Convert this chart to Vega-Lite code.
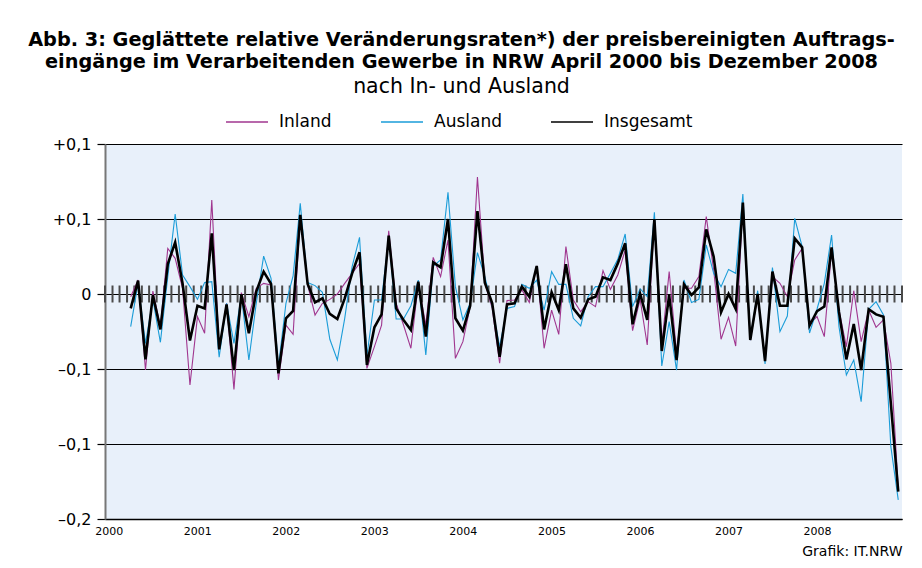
{
"$schema": "https://vega.github.io/schema/vega-lite/v6.json",
"width": 797, "height": 375,
"autosize": {"type": "none"},
"padding": {"left": 105, "top": 144, "right": 20, "bottom": 49},
"background": "white",
"config": {"view": {"fill": "#e8f0fa", "stroke": null}, "font": "DejaVu Sans"},
"title": {"text": ["Abb. 3: Geglättete relative Veränderungsraten*) der preisbereinigten Auftrags-", "eingänge im Verarbeitenden Gewerbe in NRW April 2000 bis Dezember 2008"], "subtitle": "nach In- und Ausland", "anchor": "middle", "frame": "group", "dx": -42, "fontSize": 19.3, "fontWeight": "bold", "lineHeight": 22, "subtitleFontSize": 20.5, "subtitleFontWeight": "normal", "subtitlePadding": 4, "offset": 3, "color": "black", "subtitleColor": "black", "font": "DejaVu Sans", "subtitleFont": "DejaVu Sans"},
"datasets": {
"months": [{"month":"2000-01"},{"month":"2000-02"},{"month":"2000-03"},{"month":"2000-04"},{"month":"2000-05"},{"month":"2000-06"},{"month":"2000-07"},{"month":"2000-08"},{"month":"2000-09"},{"month":"2000-10"},{"month":"2000-11"},{"month":"2000-12"},
{"month":"2001-01"},{"month":"2001-02"},{"month":"2001-03"},{"month":"2001-04"},{"month":"2001-05"},{"month":"2001-06"},{"month":"2001-07"},{"month":"2001-08"},{"month":"2001-09"},{"month":"2001-10"},{"month":"2001-11"},{"month":"2001-12"},
{"month":"2002-01"},{"month":"2002-02"},{"month":"2002-03"},{"month":"2002-04"},{"month":"2002-05"},{"month":"2002-06"},{"month":"2002-07"},{"month":"2002-08"},{"month":"2002-09"},{"month":"2002-10"},{"month":"2002-11"},{"month":"2002-12"},
{"month":"2003-01"},{"month":"2003-02"},{"month":"2003-03"},{"month":"2003-04"},{"month":"2003-05"},{"month":"2003-06"},{"month":"2003-07"},{"month":"2003-08"},{"month":"2003-09"},{"month":"2003-10"},{"month":"2003-11"},{"month":"2003-12"},
{"month":"2004-01"},{"month":"2004-02"},{"month":"2004-03"},{"month":"2004-04"},{"month":"2004-05"},{"month":"2004-06"},{"month":"2004-07"},{"month":"2004-08"},{"month":"2004-09"},{"month":"2004-10"},{"month":"2004-11"},{"month":"2004-12"},
{"month":"2005-01"},{"month":"2005-02"},{"month":"2005-03"},{"month":"2005-04"},{"month":"2005-05"},{"month":"2005-06"},{"month":"2005-07"},{"month":"2005-08"},{"month":"2005-09"},{"month":"2005-10"},{"month":"2005-11"},{"month":"2005-12"},
{"month":"2006-01"},{"month":"2006-02"},{"month":"2006-03"},{"month":"2006-04"},{"month":"2006-05"},{"month":"2006-06"},{"month":"2006-07"},{"month":"2006-08"},{"month":"2006-09"},{"month":"2006-10"},{"month":"2006-11"},{"month":"2006-12"},
{"month":"2007-01"},{"month":"2007-02"},{"month":"2007-03"},{"month":"2007-04"},{"month":"2007-05"},{"month":"2007-06"},{"month":"2007-07"},{"month":"2007-08"},{"month":"2007-09"},{"month":"2007-10"},{"month":"2007-11"},{"month":"2007-12"},
{"month":"2008-01"},{"month":"2008-02"},{"month":"2008-03"},{"month":"2008-04"},{"month":"2008-05"},{"month":"2008-06"},{"month":"2008-07"},{"month":"2008-08"},{"month":"2008-09"},{"month":"2008-10"},{"month":"2008-11"},{"month":"2008-12"},
{"month":"2009-01"}],
"series": [
{"month":"2000-04","series":"Insgesamt","value":-0.0096},{"month":"2000-05","series":"Insgesamt","value":0.0089},{"month":"2000-06","series":"Insgesamt","value":-0.0436},{"month":"2000-07","series":"Insgesamt","value":-0.0007},{"month":"2000-08","series":"Insgesamt","value":-0.0236},{"month":"2000-09","series":"Insgesamt","value":0.02},{"month":"2000-10","series":"Insgesamt","value":0.0344},{"month":"2000-11","series":"Insgesamt","value":0.007},{"month":"2000-12","series":"Insgesamt","value":-0.031},
{"month":"2001-01","series":"Insgesamt","value":-0.0078},{"month":"2001-02","series":"Insgesamt","value":-0.0096},{"month":"2001-03","series":"Insgesamt","value":0.0404},{"month":"2001-04","series":"Insgesamt","value":-0.0369},{"month":"2001-05","series":"Insgesamt","value":-0.0069},{"month":"2001-06","series":"Insgesamt","value":-0.0507},{"month":"2001-07","series":"Insgesamt","value":-0.0002},{"month":"2001-08","series":"Insgesamt","value":-0.0262},{"month":"2001-09","series":"Insgesamt","value":0.0016},{"month":"2001-10","series":"Insgesamt","value":0.0149},{"month":"2001-11","series":"Insgesamt","value":0.0067},{"month":"2001-12","series":"Insgesamt","value":-0.0529},
{"month":"2002-01","series":"Insgesamt","value":-0.0162},{"month":"2002-02","series":"Insgesamt","value":-0.0113},{"month":"2002-03","series":"Insgesamt","value":0.0527},{"month":"2002-04","series":"Insgesamt","value":0.0067},{"month":"2002-05","series":"Insgesamt","value":-0.0056},{"month":"2002-06","series":"Insgesamt","value":-0.0029},{"month":"2002-07","series":"Insgesamt","value":-0.0133},{"month":"2002-08","series":"Insgesamt","value":-0.0167},{"month":"2002-09","series":"Insgesamt","value":-0.0029},{"month":"2002-10","series":"Insgesamt","value":0.0138},{"month":"2002-11","series":"Insgesamt","value":0.0278},{"month":"2002-12","series":"Insgesamt","value":-0.0473},
{"month":"2003-01","series":"Insgesamt","value":-0.0222},{"month":"2003-02","series":"Insgesamt","value":-0.0136},{"month":"2003-03","series":"Insgesamt","value":0.0389},{"month":"2003-04","series":"Insgesamt","value":-0.0096},{"month":"2003-05","series":"Insgesamt","value":-0.0173},{"month":"2003-06","series":"Insgesamt","value":-0.024},{"month":"2003-07","series":"Insgesamt","value":0.0082},{"month":"2003-08","series":"Insgesamt","value":-0.0284},{"month":"2003-09","series":"Insgesamt","value":0.0211},{"month":"2003-10","series":"Insgesamt","value":0.0178},{"month":"2003-11","series":"Insgesamt","value":0.05},{"month":"2003-12","series":"Insgesamt","value":-0.0162},
{"month":"2004-01","series":"Insgesamt","value":-0.0244},{"month":"2004-02","series":"Insgesamt","value":-0.0078},{"month":"2004-03","series":"Insgesamt","value":0.0553},{"month":"2004-04","series":"Insgesamt","value":0.0076},{"month":"2004-05","series":"Insgesamt","value":-0.0062},{"month":"2004-06","series":"Insgesamt","value":-0.0418},{"month":"2004-07","series":"Insgesamt","value":-0.0069},{"month":"2004-08","series":"Insgesamt","value":-0.0062},{"month":"2004-09","series":"Insgesamt","value":0.0049},{"month":"2004-10","series":"Insgesamt","value":-0.0018},{"month":"2004-11","series":"Insgesamt","value":0.0187},{"month":"2004-12","series":"Insgesamt","value":-0.0236},
{"month":"2005-01","series":"Insgesamt","value":0.0011},{"month":"2005-02","series":"Insgesamt","value":-0.0107},{"month":"2005-03","series":"Insgesamt","value":0.0198},{"month":"2005-04","series":"Insgesamt","value":-0.0096},{"month":"2005-05","series":"Insgesamt","value":-0.0158},{"month":"2005-06","series":"Insgesamt","value":-0.0036},{"month":"2005-07","series":"Insgesamt","value":-0.0018},{"month":"2005-08","series":"Insgesamt","value":0.0111},{"month":"2005-09","series":"Insgesamt","value":0.0093},{"month":"2005-10","series":"Insgesamt","value":0.0204},{"month":"2005-11","series":"Insgesamt","value":0.0338},{"month":"2005-12","series":"Insgesamt","value":-0.0202},
{"month":"2006-01","series":"Insgesamt","value":0.0002},{"month":"2006-02","series":"Insgesamt","value":-0.0173},{"month":"2006-03","series":"Insgesamt","value":0.05},{"month":"2006-04","series":"Insgesamt","value":-0.038},{"month":"2006-05","series":"Insgesamt","value":-0.0007},{"month":"2006-06","series":"Insgesamt","value":-0.044},{"month":"2006-07","series":"Insgesamt","value":0.0064},{"month":"2006-08","series":"Insgesamt","value":-0.0007},{"month":"2006-09","series":"Insgesamt","value":0.0044},{"month":"2006-10","series":"Insgesamt","value":0.0431},{"month":"2006-11","series":"Insgesamt","value":0.0249},{"month":"2006-12","series":"Insgesamt","value":-0.0122},
{"month":"2007-01","series":"Insgesamt","value":0},{"month":"2007-02","series":"Insgesamt","value":-0.01},{"month":"2007-03","series":"Insgesamt","value":0.0609},{"month":"2007-04","series":"Insgesamt","value":-0.0307},{"month":"2007-05","series":"Insgesamt","value":0},{"month":"2007-06","series":"Insgesamt","value":-0.0447},{"month":"2007-07","series":"Insgesamt","value":0.0149},{"month":"2007-08","series":"Insgesamt","value":-0.0078},{"month":"2007-09","series":"Insgesamt","value":-0.0078},{"month":"2007-10","series":"Insgesamt","value":0.0371},{"month":"2007-11","series":"Insgesamt","value":0.0311},{"month":"2007-12","series":"Insgesamt","value":-0.021},
{"month":"2008-01","series":"Insgesamt","value":-0.0115},{"month":"2008-02","series":"Insgesamt","value":-0.0084},{"month":"2008-03","series":"Insgesamt","value":0.0311},{"month":"2008-04","series":"Insgesamt","value":-0.012},{"month":"2008-05","series":"Insgesamt","value":-0.0436},{"month":"2008-06","series":"Insgesamt","value":-0.02},{"month":"2008-07","series":"Insgesamt","value":-0.0507},{"month":"2008-08","series":"Insgesamt","value":-0.0102},{"month":"2008-09","series":"Insgesamt","value":-0.0136},{"month":"2008-10","series":"Insgesamt","value":-0.0151},{"month":"2008-11","series":"Insgesamt","value":-0.073},{"month":"2008-12","series":"Insgesamt","value":-0.1318},
{"month":"2000-04","series":"Inland","value":-0.0018},{"month":"2000-05","series":"Inland","value":0.0093},{"month":"2000-06","series":"Inland","value":-0.0507},{"month":"2000-07","series":"Inland","value":0.002},{"month":"2000-08","series":"Inland","value":-0.0218},{"month":"2000-09","series":"Inland","value":0.0304},{"month":"2000-10","series":"Inland","value":0.0238},{"month":"2000-11","series":"Inland","value":0.0038},{"month":"2000-12","series":"Inland","value":-0.0607},
{"month":"2001-01","series":"Inland","value":-0.0151},{"month":"2001-02","series":"Inland","value":-0.0262},{"month":"2001-03","series":"Inland","value":0.0627},{"month":"2001-04","series":"Inland","value":-0.0369},{"month":"2001-05","series":"Inland","value":-0.0062},{"month":"2001-06","series":"Inland","value":-0.0636},{"month":"2001-07","series":"Inland","value":0.0009},{"month":"2001-08","series":"Inland","value":-0.0151},{"month":"2001-09","series":"Inland","value":0.0038},{"month":"2001-10","series":"Inland","value":0.0071},{"month":"2001-11","series":"Inland","value":0.006},{"month":"2001-12","series":"Inland","value":-0.0573},
{"month":"2002-01","series":"Inland","value":-0.0207},{"month":"2002-02","series":"Inland","value":-0.0269},{"month":"2002-03","series":"Inland","value":0.0516},{"month":"2002-04","series":"Inland","value":0.006},{"month":"2002-05","series":"Inland","value":-0.014},{"month":"2002-06","series":"Inland","value":-0.0062},{"month":"2002-07","series":"Inland","value":-0.0036},{"month":"2002-08","series":"Inland","value":0},{"month":"2002-09","series":"Inland","value":0.0071},{"month":"2002-10","series":"Inland","value":0.0138},{"month":"2002-11","series":"Inland","value":0.0204},{"month":"2002-12","series":"Inland","value":-0.0496},
{"month":"2003-01","series":"Inland","value":-0.0351},{"month":"2003-02","series":"Inland","value":-0.0207},{"month":"2003-03","series":"Inland","value":0.0422},{"month":"2003-04","series":"Inland","value":-0.0062},{"month":"2003-05","series":"Inland","value":-0.0207},{"month":"2003-06","series":"Inland","value":-0.0362},{"month":"2003-07","series":"Inland","value":0.0071},{"month":"2003-08","series":"Inland","value":-0.0207},{"month":"2003-09","series":"Inland","value":0.0244},{"month":"2003-10","series":"Inland","value":0.0116},{"month":"2003-11","series":"Inland","value":0.036},{"month":"2003-12","series":"Inland","value":-0.0429},
{"month":"2004-01","series":"Inland","value":-0.0318},{"month":"2004-02","series":"Inland","value":-0.0084},{"month":"2004-03","series":"Inland","value":0.078},{"month":"2004-04","series":"Inland","value":0.0076},{"month":"2004-05","series":"Inland","value":-0.0096},{"month":"2004-06","series":"Inland","value":-0.0462},{"month":"2004-07","series":"Inland","value":-0.0044},{"month":"2004-08","series":"Inland","value":-0.004},{"month":"2004-09","series":"Inland","value":0.0027},{"month":"2004-10","series":"Inland","value":-0.0056},{"month":"2004-11","series":"Inland","value":0.0187},{"month":"2004-12","series":"Inland","value":-0.0362},
{"month":"2005-01","series":"Inland","value":-0.0107},{"month":"2005-02","series":"Inland","value":-0.0269},{"month":"2005-03","series":"Inland","value":0.0316},{"month":"2005-04","series":"Inland","value":-0.004},{"month":"2005-05","series":"Inland","value":-0.0118},{"month":"2005-06","series":"Inland","value":-0.0051},{"month":"2005-07","series":"Inland","value":-0.0084},{"month":"2005-08","series":"Inland","value":0.0156},{"month":"2005-09","series":"Inland","value":0.0031},{"month":"2005-10","series":"Inland","value":0.0127},{"month":"2005-11","series":"Inland","value":0.0293},{"month":"2005-12","series":"Inland","value":-0.0244},
{"month":"2006-01","series":"Inland","value":-0.0035},{"month":"2006-02","series":"Inland","value":-0.034},{"month":"2006-03","series":"Inland","value":0.05},{"month":"2006-04","series":"Inland","value":-0.034},{"month":"2006-05","series":"Inland","value":0.0149},{"month":"2006-06","series":"Inland","value":-0.0396},{"month":"2006-07","series":"Inland","value":0.0038},{"month":"2006-08","series":"Inland","value":0.0038},{"month":"2006-09","series":"Inland","value":0.0116},{"month":"2006-10","series":"Inland","value":0.0516},{"month":"2006-11","series":"Inland","value":0.016},{"month":"2006-12","series":"Inland","value":-0.0302},
{"month":"2007-01","series":"Inland","value":-0.0156},{"month":"2007-02","series":"Inland","value":-0.0347},{"month":"2007-03","series":"Inland","value":0.0604},{"month":"2007-04","series":"Inland","value":-0.0307},{"month":"2007-05","series":"Inland","value":-0.0018},{"month":"2007-06","series":"Inland","value":-0.044},{"month":"2007-07","series":"Inland","value":0.0116},{"month":"2007-08","series":"Inland","value":0.0071},{"month":"2007-09","series":"Inland","value":-0.0018},{"month":"2007-10","series":"Inland","value":0.0227},{"month":"2007-11","series":"Inland","value":0.0304},{"month":"2007-12","series":"Inland","value":-0.02},
{"month":"2008-01","series":"Inland","value":-0.015},{"month":"2008-02","series":"Inland","value":-0.0284},{"month":"2008-03","series":"Inland","value":0.0293},{"month":"2008-04","series":"Inland","value":-0.0107},{"month":"2008-05","series":"Inland","value":-0.0351},{"month":"2008-06","series":"Inland","value":0.0022},{"month":"2008-07","series":"Inland","value":-0.0318},{"month":"2008-08","series":"Inland","value":-0.0107},{"month":"2008-09","series":"Inland","value":-0.0222},{"month":"2008-10","series":"Inland","value":-0.0173},{"month":"2008-11","series":"Inland","value":-0.0462},{"month":"2008-12","series":"Inland","value":-0.1296},
{"month":"2000-04","series":"Ausland","value":-0.0218},{"month":"2000-05","series":"Ausland","value":0.0071},{"month":"2000-06","series":"Ausland","value":-0.0329},{"month":"2000-07","series":"Ausland","value":-0.0036},{"month":"2000-08","series":"Ausland","value":-0.0322},{"month":"2000-09","series":"Ausland","value":0.0116},{"month":"2000-10","series":"Ausland","value":0.0533},{"month":"2000-11","series":"Ausland","value":0.0127},{"month":"2000-12","series":"Ausland","value":0.0049},
{"month":"2001-01","series":"Ausland","value":-0.0036},{"month":"2001-02","series":"Ausland","value":0.0076},{"month":"2001-03","series":"Ausland","value":0.0082},{"month":"2001-04","series":"Ausland","value":-0.0422},{"month":"2001-05","series":"Ausland","value":-0.0062},{"month":"2001-06","series":"Ausland","value":-0.0329},{"month":"2001-07","series":"Ausland","value":-0.0007},{"month":"2001-08","series":"Ausland","value":-0.044},{"month":"2001-09","series":"Ausland","value":-0.0062},{"month":"2001-10","series":"Ausland","value":0.0253},{"month":"2001-11","series":"Ausland","value":0.0104},{"month":"2001-12","series":"Ausland","value":-0.0484},
{"month":"2002-01","series":"Ausland","value":-0.0062},{"month":"2002-02","series":"Ausland","value":0.012},{"month":"2002-03","series":"Ausland","value":0.0604},{"month":"2002-04","series":"Ausland","value":0.0076},{"month":"2002-05","series":"Ausland","value":0.0056},{"month":"2002-06","series":"Ausland","value":0.0011},{"month":"2002-07","series":"Ausland","value":-0.0302},{"month":"2002-08","series":"Ausland","value":-0.044},{"month":"2002-09","series":"Ausland","value":-0.0162},{"month":"2002-10","series":"Ausland","value":0.0182},{"month":"2002-11","series":"Ausland","value":0.0378},{"month":"2002-12","series":"Ausland","value":-0.0413},
{"month":"2003-01","series":"Ausland","value":-0.004},{"month":"2003-02","series":"Ausland","value":-0.004},{"month":"2003-03","series":"Ausland","value":0.0382},{"month":"2003-04","series":"Ausland","value":-0.0167},{"month":"2003-05","series":"Ausland","value":-0.0167},{"month":"2003-06","series":"Ausland","value":-0.0078},{"month":"2003-07","series":"Ausland","value":0.0093},{"month":"2003-08","series":"Ausland","value":-0.0407},{"month":"2003-09","series":"Ausland","value":0.0187},{"month":"2003-10","series":"Ausland","value":0.0227},{"month":"2003-11","series":"Ausland","value":0.0678},{"month":"2003-12","series":"Ausland","value":0.0049},
{"month":"2004-01","series":"Ausland","value":-0.0173},{"month":"2004-02","series":"Ausland","value":-0.0062},{"month":"2004-03","series":"Ausland","value":0.0276},{"month":"2004-04","series":"Ausland","value":0.0116},{"month":"2004-05","series":"Ausland","value":-0.0084},{"month":"2004-06","series":"Ausland","value":-0.0351},{"month":"2004-07","series":"Ausland","value":-0.0096},{"month":"2004-08","series":"Ausland","value":-0.0084},{"month":"2004-09","series":"Ausland","value":0.0064},{"month":"2004-10","series":"Ausland","value":0.0038},{"month":"2004-11","series":"Ausland","value":0.0093},{"month":"2004-12","series":"Ausland","value":-0.0107},
{"month":"2005-01","series":"Ausland","value":0.0149},{"month":"2005-02","series":"Ausland","value":0.0064},{"month":"2005-03","series":"Ausland","value":0.0064},{"month":"2005-04","series":"Ausland","value":-0.0162},{"month":"2005-05","series":"Ausland","value":-0.0213},{"month":"2005-06","series":"Ausland","value":-0.0018},{"month":"2005-07","series":"Ausland","value":0.0049},{"month":"2005-08","series":"Ausland","value":0.0049},{"month":"2005-09","series":"Ausland","value":0.0138},{"month":"2005-10","series":"Ausland","value":0.0231},{"month":"2005-11","series":"Ausland","value":0.04},{"month":"2005-12","series":"Ausland","value":-0.0084},
{"month":"2006-01","series":"Ausland","value":0.0035},{"month":"2006-02","series":"Ausland","value":-0.0018},{"month":"2006-03","series":"Ausland","value":0.0544},{"month":"2006-04","series":"Ausland","value":-0.048},{"month":"2006-05","series":"Ausland","value":-0.0184},{"month":"2006-06","series":"Ausland","value":-0.0507},{"month":"2006-07","series":"Ausland","value":0.0093},{"month":"2006-08","series":"Ausland","value":-0.0056},{"month":"2006-09","series":"Ausland","value":-0.0036},{"month":"2006-10","series":"Ausland","value":0.0327},{"month":"2006-11","series":"Ausland","value":0.0138},{"month":"2006-12","series":"Ausland","value":0.0049},
{"month":"2007-01","series":"Ausland","value":0.0164},{"month":"2007-02","series":"Ausland","value":0.0138},{"month":"2007-03","series":"Ausland","value":0.0667},{"month":"2007-04","series":"Ausland","value":-0.0307},{"month":"2007-05","series":"Ausland","value":0.0022},{"month":"2007-06","series":"Ausland","value":-0.0467},{"month":"2007-07","series":"Ausland","value":0.0176},{"month":"2007-08","series":"Ausland","value":-0.0251},{"month":"2007-09","series":"Ausland","value":-0.0147},{"month":"2007-10","series":"Ausland","value":0.0504},{"month":"2007-11","series":"Ausland","value":0.0316},{"month":"2007-12","series":"Ausland","value":-0.026},
{"month":"2008-01","series":"Ausland","value":-0.01},{"month":"2008-02","series":"Ausland","value":0.0071},{"month":"2008-03","series":"Ausland","value":0.0393},{"month":"2008-04","series":"Ausland","value":-0.0218},{"month":"2008-05","series":"Ausland","value":-0.054},{"month":"2008-06","series":"Ausland","value":-0.044},{"month":"2008-07","series":"Ausland","value":-0.0718},{"month":"2008-08","series":"Ausland","value":-0.0102},{"month":"2008-09","series":"Ausland","value":-0.0051},{"month":"2008-10","series":"Ausland","value":-0.014},{"month":"2008-11","series":"Ausland","value":-0.1018},{"month":"2008-12","series":"Ausland","value":-0.1373}
]},
"layer": [
{"data": {"name": "months"},
 "mark": {"type": "tick", "orient": "vertical", "size": 17, "thickness": 2, "color": "#4a4a4a", "opacity": 1},
 "encoding": {
  "x": {"field": "month", "type": "temporal", "scale": {"type": "utc", "domain": [{"year": 2000, "month": 1, "date": 1, "utc": true}, {"year": 2009, "month": 1, "date": 1, "utc": true}], "nice": false},
   "axis": {"values": [{"year":2000,"month":1,"date":16,"utc":true},{"year":2001,"month":1,"date":16,"utc":true},{"year":2002,"month":1,"date":16,"utc":true},{"year":2003,"month":1,"date":16,"utc":true},{"year":2004,"month":1,"date":16,"utc":true},{"year":2005,"month":1,"date":16,"utc":true},{"year":2006,"month":1,"date":16,"utc":true},{"year":2007,"month":1,"date":16,"utc":true},{"year":2008,"month":1,"date":16,"utc":true}], "labelExpr": "utcFormat(datum.value, '%Y')", "ticks": false, "grid": false, "domainColor": "black", "domainWidth": 1.5, "labelFontSize": 11, "labelPadding": 6, "labelColor": "black", "labelFlush": false, "title": "Grafik: IT.NRW", "titleAnchor": "end", "titleFontSize": 14, "titleFontWeight": "normal", "titlePadding": 8, "titleColor": "black"}},
  "y": {"datum": 0, "type": "quantitative"}
 }},
{"data": {"name": "series"},
 "transform": [{"filter": "datum.series !== 'Insgesamt'"}],
 "mark": {"type": "line", "interpolate": "linear", "strokeWidth": 1.1},
 "encoding": {
  "x": {"field": "month", "type": "temporal", "timeUnit": "utcyearmonth", "bandPosition": 0.5, "scale": {"type": "utc", "domain": [{"year": 2000, "month": 1, "date": 1, "utc": true}, {"year": 2009, "month": 1, "date": 1, "utc": true}], "nice": false},
   "axis": {"values": [{"year":2000,"month":1,"date":16,"utc":true},{"year":2001,"month":1,"date":16,"utc":true},{"year":2002,"month":1,"date":16,"utc":true},{"year":2003,"month":1,"date":16,"utc":true},{"year":2004,"month":1,"date":16,"utc":true},{"year":2005,"month":1,"date":16,"utc":true},{"year":2006,"month":1,"date":16,"utc":true},{"year":2007,"month":1,"date":16,"utc":true},{"year":2008,"month":1,"date":16,"utc":true}], "labelExpr": "utcFormat(datum.value, '%Y')", "ticks": false, "grid": false, "domainColor": "black", "domainWidth": 1.5, "labelFontSize": 11, "labelPadding": 6, "labelColor": "black", "labelFlush": false, "title": "Grafik: IT.NRW", "titleAnchor": "end", "titleFontSize": 14, "titleFontWeight": "normal", "titlePadding": 8, "titleColor": "black"}},
  "y": {"field": "value", "type": "quantitative", "scale": {"domain": [-0.15, 0.1], "nice": false, "zero": false},
   "axis": {"values": [-0.15, -0.1, -0.05, 0, 0.05, 0.1], "labelExpr": "datum.value > 0.001 ? '+0,1' : (datum.value < -0.12 ? '–0,2' : (datum.value < -0.001 ? '–0,1' : '0'))", "grid": true, "gridColor": "black", "gridWidth": 1.2, "domainColor": "#777777", "domainWidth": 2, "tickColor": "black", "tickSize": 8, "tickWidth": 1.2, "labelFontSize": 16, "labelPadding": 6, "labelColor": "black", "title": null}},
  "color": {"field": "series", "type": "nominal", "scale": {"domain": ["Inland", "Ausland", "Insgesamt"], "range": ["#a0368f", "#1a9cd8", "#000000"]},
   "legend": {"orient": "none", "legendX": 120, "legendY": -44, "direction": "horizontal", "title": null, "symbolType": "stroke", "symbolSize": 1764, "symbolStrokeWidth": 1.5, "labelFontSize": 17, "labelOffset": 10, "columnPadding": 46, "labelColor": "black", "padding": 0}}
 }},
{"data": {"name": "series"},
 "transform": [{"filter": "datum.series === 'Insgesamt'"}],
 "mark": {"type": "line", "interpolate": "linear", "strokeWidth": 2.6},
 "encoding": {
  "x": {"field": "month", "type": "temporal", "timeUnit": "utcyearmonth", "bandPosition": 0.5, "scale": {"type": "utc", "domain": [{"year": 2000, "month": 1, "date": 1, "utc": true}, {"year": 2009, "month": 1, "date": 1, "utc": true}], "nice": false},
   "axis": {"values": [{"year":2000,"month":1,"date":16,"utc":true},{"year":2001,"month":1,"date":16,"utc":true},{"year":2002,"month":1,"date":16,"utc":true},{"year":2003,"month":1,"date":16,"utc":true},{"year":2004,"month":1,"date":16,"utc":true},{"year":2005,"month":1,"date":16,"utc":true},{"year":2006,"month":1,"date":16,"utc":true},{"year":2007,"month":1,"date":16,"utc":true},{"year":2008,"month":1,"date":16,"utc":true}], "labelExpr": "utcFormat(datum.value, '%Y')", "ticks": false, "grid": false, "domainColor": "black", "domainWidth": 1.5, "labelFontSize": 11, "labelPadding": 6, "labelColor": "black", "labelFlush": false, "title": "Grafik: IT.NRW", "titleAnchor": "end", "titleFontSize": 14, "titleFontWeight": "normal", "titlePadding": 8, "titleColor": "black"}},
  "y": {"field": "value", "type": "quantitative", "scale": {"domain": [-0.15, 0.1], "nice": false, "zero": false},
   "axis": {"values": [-0.15, -0.1, -0.05, 0, 0.05, 0.1], "labelExpr": "datum.value > 0.001 ? '+0,1' : (datum.value < -0.12 ? '–0,2' : (datum.value < -0.001 ? '–0,1' : '0'))", "grid": true, "gridColor": "black", "gridWidth": 1.2, "domainColor": "#777777", "domainWidth": 2, "tickColor": "black", "tickSize": 8, "tickWidth": 1.2, "labelFontSize": 16, "labelPadding": 6, "labelColor": "black", "title": null}},
  "color": {"field": "series", "type": "nominal", "scale": {"domain": ["Inland", "Ausland", "Insgesamt"], "range": ["#a0368f", "#1a9cd8", "#000000"]},
   "legend": {"orient": "none", "legendX": 120, "legendY": -44, "direction": "horizontal", "title": null, "symbolType": "stroke", "symbolSize": 1764, "symbolStrokeWidth": 1.5, "labelFontSize": 17, "labelOffset": 10, "columnPadding": 46, "labelColor": "black", "padding": 0}}
 }}
]
}
